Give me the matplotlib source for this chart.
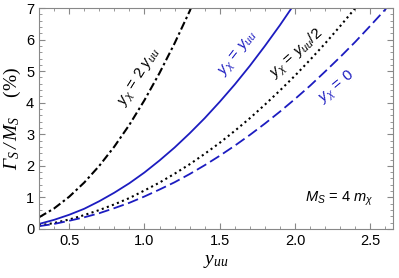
import numpy as np
import matplotlib
matplotlib.use("Agg")
import matplotlib.pyplot as plt
from matplotlib.ticker import MultipleLocator

plt.rcParams['font.family'] = ['Liberation Sans', 'DejaVu Sans']
plt.rcParams['mathtext.fontset'] = 'custom'
plt.rcParams['mathtext.rm'] = 'Liberation Sans'
plt.rcParams['mathtext.it'] = 'Liberation Sans:italic'
plt.rcParams['mathtext.cal'] = 'Liberation Serif:italic'

# curves (Gamma_S / M_S in %)
x_2yuu = [0.3, 0.4, 0.5, 0.6, 0.7, 0.8, 0.9, 1.0, 1.1, 1.2, 1.3, 1.4]
y_2yuu = [0.37, 0.65, 1.02, 1.47, 2.00, 2.61, 3.30, 4.08, 4.94, 5.88, 6.90, 8.00]

x_yuu = [0.3, 0.4, 0.5, 0.6, 0.7, 0.8, 0.9, 1.0, 1.1, 1.2, 1.3, 1.4, 1.5, 1.6,
         1.7, 1.8, 1.9, 2.0]
y_yuu = [0.16, 0.29, 0.45, 0.64, 0.88, 1.15, 1.45, 1.79, 2.17, 2.58, 3.03, 3.51,
         4.03, 4.58, 5.17, 5.80, 6.46, 7.16]

x_half = [0.3, 0.4, 0.5, 0.6, 0.7, 0.8, 0.9, 1.0, 1.1, 1.2, 1.3, 1.4, 1.5, 1.6,
          1.7, 1.8, 1.9, 2.0, 2.1, 2.2, 2.3, 2.4, 2.5]
y_half = [0.11, 0.19, 0.30, 0.44, 0.60, 0.78, 0.98, 1.22, 1.47, 1.75, 2.05, 2.38,
          2.73, 3.11, 3.51, 3.94, 4.39, 4.86, 5.36, 5.88, 6.43, 7.00, 7.59]

x_zero = [0.3, 0.4, 0.5, 0.6, 0.7, 0.8, 0.9, 1.0, 1.1, 1.2, 1.3, 1.4, 1.5, 1.6,
          1.7, 1.8, 1.9, 2.0, 2.1, 2.2, 2.3, 2.4, 2.5, 2.6, 2.7]
y_zero = [0.09, 0.16, 0.26, 0.37, 0.50, 0.66, 0.83, 1.03, 1.25, 1.48, 1.74, 2.02,
          2.32, 2.64, 2.98, 3.34, 3.72, 4.12, 4.54, 4.99, 5.45, 5.93, 6.44, 6.96, 7.51]

blue = '#1c1cc0'

fig = plt.figure(figsize=(3.99, 2.78), dpi=100)
ax = fig.add_axes([39/399, 1 - 229/278, (393 - 39)/399, (229 - 8)/278])

ax.plot(x_2yuu, y_2yuu, color='black', lw=1.5, dashes=(4, 1.5, 1.2, 1.5))
ax.plot(x_yuu, y_yuu, color=blue, lw=1.3)
ax.plot(x_half, y_half, color='black', lw=1.5, dashes=(1, 1.6))
ax.plot(x_zero, y_zero, color=blue, lw=1.3, dashes=(6, 2.5))

ax.set_xlim(0.3, 2.65)
ax.set_ylim(0, 7)
ax.xaxis.set_major_locator(MultipleLocator(0.5))
ax.xaxis.set_minor_locator(MultipleLocator(0.1))
ax.yaxis.set_major_locator(MultipleLocator(1))
ax.yaxis.set_minor_locator(MultipleLocator(0.2))
ax.tick_params(which='both', direction='in', top=True, right=True,
               color='#888888', labelsize=10.5)
ax.tick_params(which='major', length=4)
ax.tick_params(which='minor', length=2)
for s in ax.spines.values():
    s.set_color('#888888')
    s.set_linewidth(0.8)

ax.set_xlabel(r'$\mathcal{y_{uu}}$', fontsize=14, labelpad=4)
ax.set_ylabel(r'$\mathcal{Γ_S\,/\,M_S}$    (%)', fontsize=14,
              family='Liberation Serif', labelpad=2)

ax.text(0.97, 4.81, r'$y_\chi$ = 2 $y_{uu}$', rotation=58, ha='center', va='center',
        fontsize=11, color='black')
ax.text(1.63, 5.54, r'$y_\chi$ = $y_{uu}$', rotation=52, ha='center', va='center',
        fontsize=11, color=blue)
ax.text(2.01, 5.54, r'$y_\chi$ = $y_{uu}$/2', rotation=42, ha='center', va='center',
        fontsize=11, color='black')
ax.text(2.28, 4.49, r'$y_\chi$ = $\mathit{0}$', rotation=40, ha='center', va='center',
        fontsize=11, color=blue)
ax.text(2.29, 0.95, r'$M_S$ = 4 $m_\chi$', ha='center', va='center',
        fontsize=10.5, color='black')

fig.savefig('out.png', dpi=100)
